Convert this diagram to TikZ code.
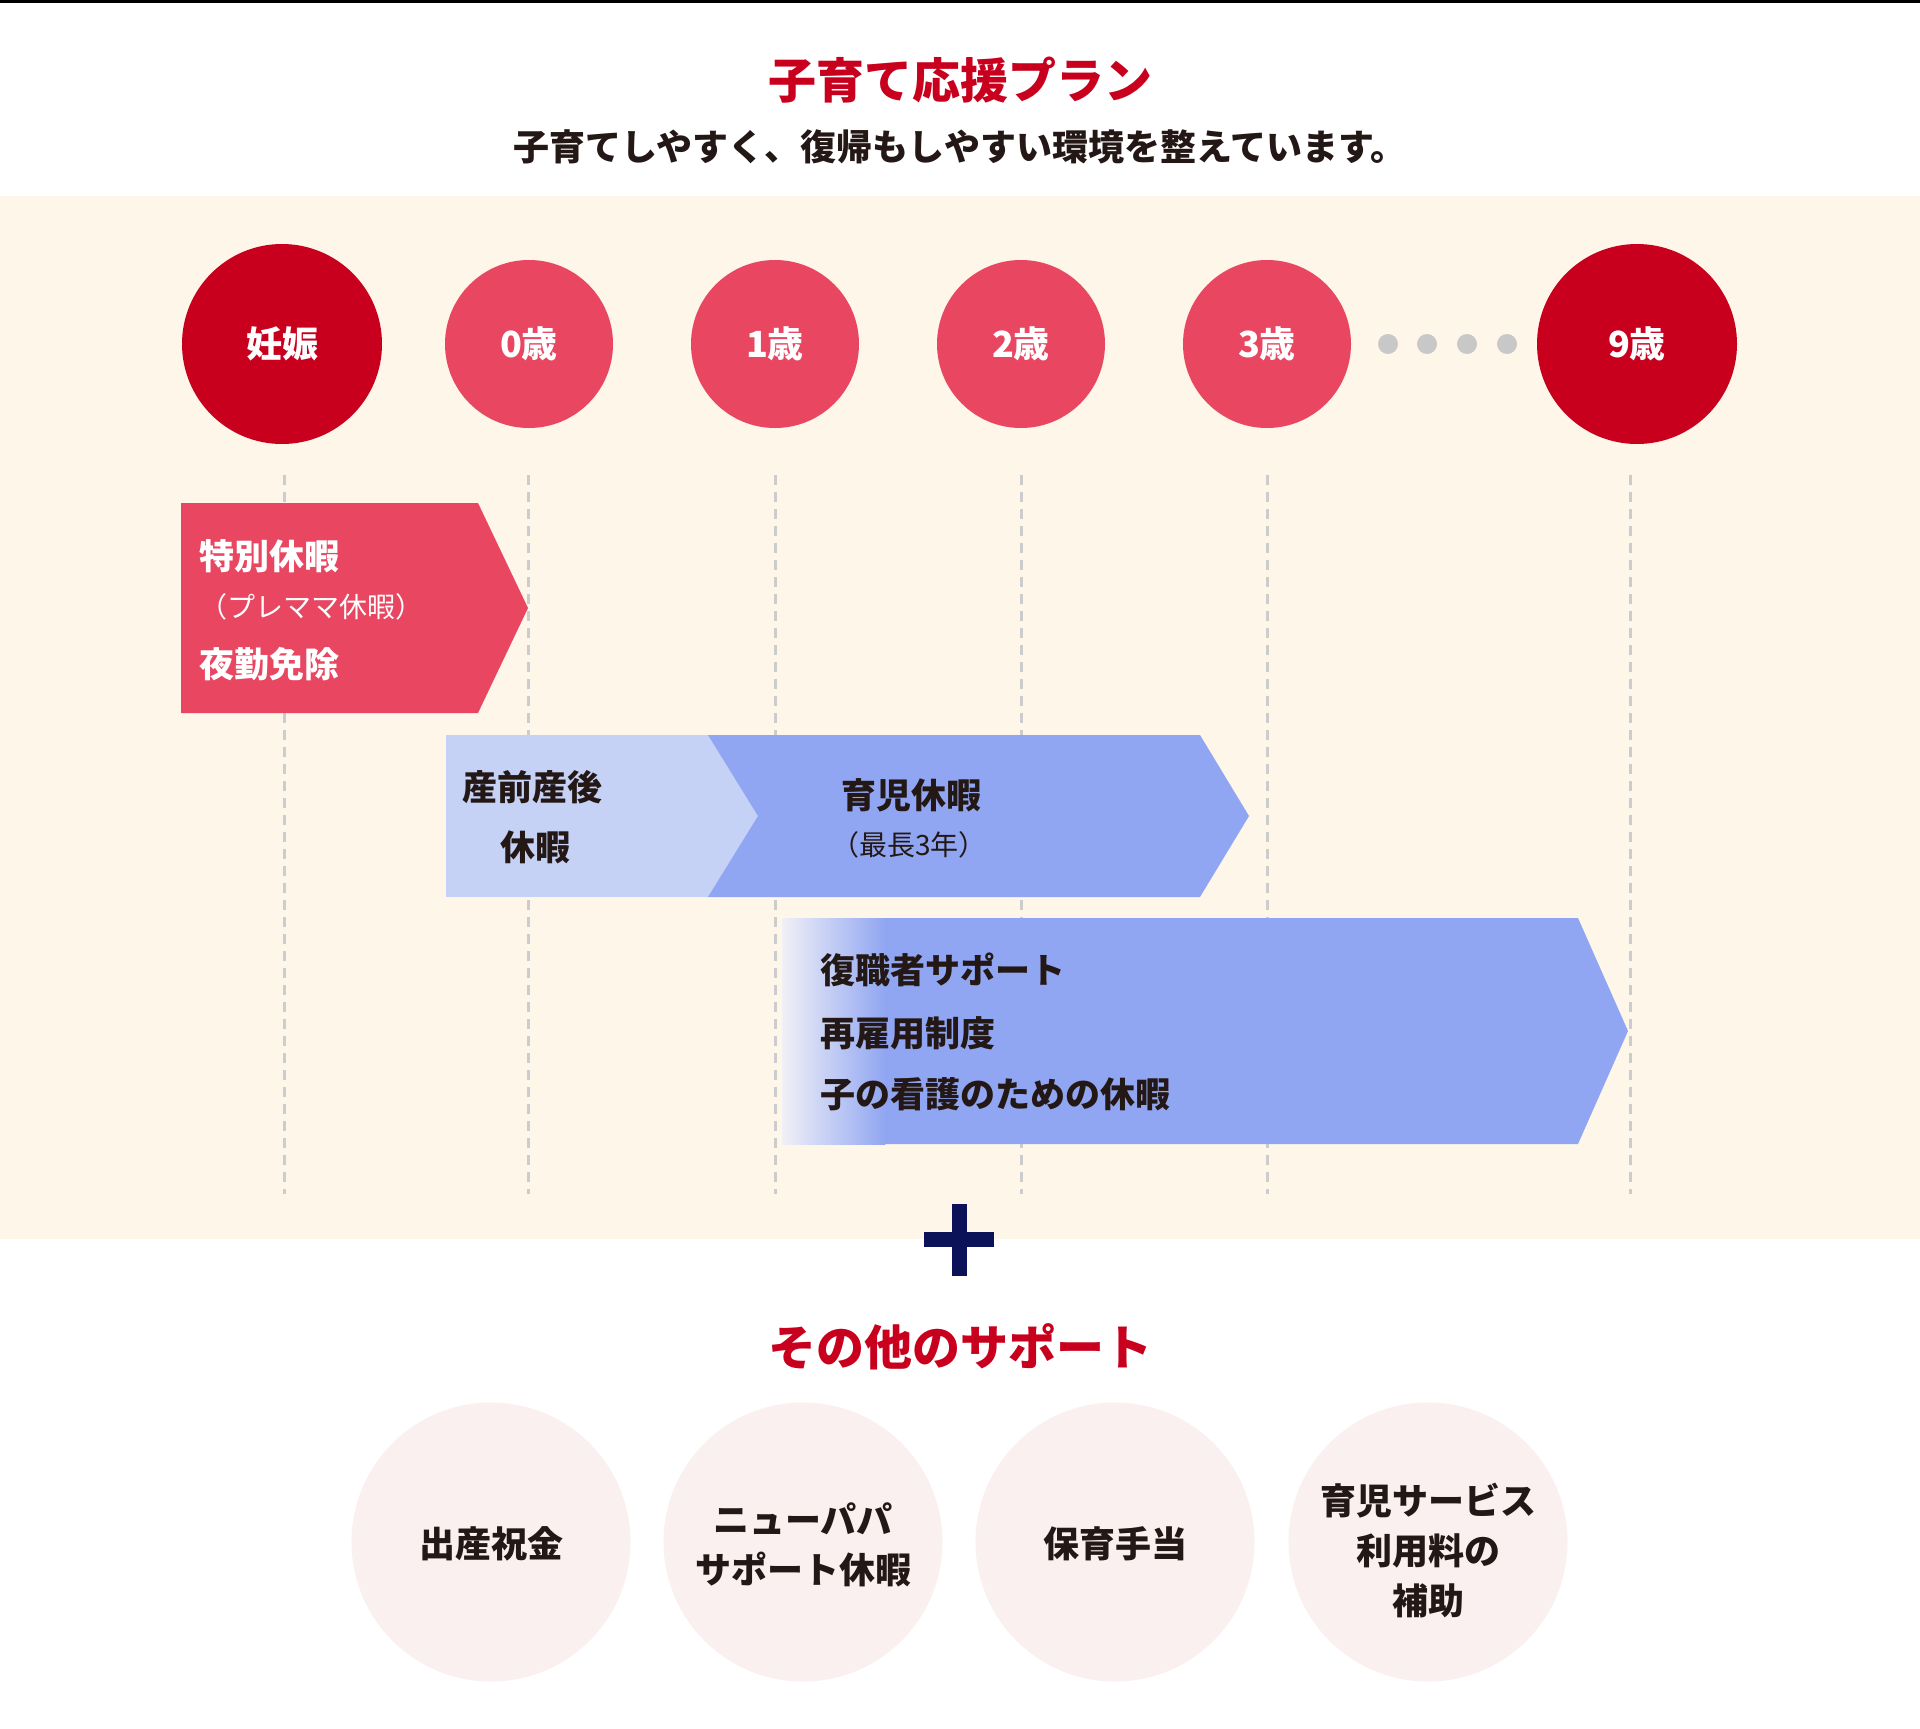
\documentclass[tikz,border=0pt]{standalone}
\usepackage{fontspec}
\setmainfont{Noto Sans CJK JP}
\definecolor{darkred}{HTML}{C8001E}
\definecolor{midpink}{HTML}{E84661}
\definecolor{lightblue}{HTML}{C6D1F6}
\definecolor{midblue}{HTML}{91A6F2}
\definecolor{beige}{HTML}{FDF6E9}
\definecolor{softpink}{HTML}{FAF0F0}
\definecolor{dotgray}{HTML}{C8C8C8}
\definecolor{dashgray}{HTML}{CCCCCC}
\definecolor{navy}{HTML}{0B1258}
\definecolor{ink}{HTML}{231815}
\definecolor{fadestart}{HTML}{F0F0F6}
\begin{document}
\begin{tikzpicture}[x=1pt,y=-1pt,
  bigtitle/.style={font=\fontsize{48}{58}\selectfont\bfseries, text=darkred, inner sep=0},
  subtitle/.style={font=\fontsize{36}{42}\selectfont\bfseries, text=ink, inner sep=0},
  bigcirc/.style={circle, fill=darkred, minimum size=200pt, inner sep=0, text=white, font=\fontsize{36}{44}\selectfont\bfseries},
  agecirc/.style={circle, fill=midpink, minimum size=168pt, inner sep=0, text=white, font=\fontsize{36}{44}\selectfont\bfseries},
  graydot/.style={circle, fill=dotgray, minimum size=20pt, inner sep=0},
  dashline/.style={draw=dashgray, line width=3pt, dash pattern=on 10pt off 7pt},
  whitelabel/.style={font=\fontsize{35}{42}\selectfont\bfseries, text=white, inner sep=0, anchor=west},
  whitesub/.style={font=\fontsize{28}{34}\selectfont, text=white, inner sep=0, anchor=west},
  inklabel/.style={font=\fontsize{35}{42}\selectfont\bfseries, text=ink, inner sep=0},
  inksub/.style={font=\fontsize{28}{34}\selectfont, text=ink, inner sep=0},
  supportcirc/.style={circle, fill=softpink, minimum size=279pt, inner sep=0},
  supporttext/.style={text=ink, align=center, inner sep=0, font=\fontsize{36}{50}\selectfont\bfseries}
]
\fill[white] (0,0) rectangle (1920,1729);
\useasboundingbox (0,0) rectangle (1920,1729);
\fill[black] (0,0) rectangle (1920,3);
\fill[beige] (0,196) rectangle (1920,1239);

\node[bigtitle] (title) at (960,80) {子育て応援プラン};
\node[subtitle] (sub) at (960,147) {子育てしやすく、復帰もしやすい環境を整えています。};

% dashed guide lines
\foreach \i/\x in {1/284,2/528,3/775,4/1021,5/1267,6/1630}{
  \coordinate (t\i) at (\x,475);
  \coordinate (b\i) at (\x,1194);
  \draw[dashline] (t\i) -- (b\i);
}

% stage circles
\node[bigcirc] (preg) at (282,344) {妊娠};
\node[agecirc] (a0) at (529,344) {0歳};
\node[agecirc] (a1) at (775,344) {1歳};
\node[agecirc] (a2) at (1021,344) {2歳};
\node[agecirc] (a3) at (1267,344) {3歳};
\node[graydot] (d1) at (1388,344) {};
\node[graydot] (d2) at (1427,344) {};
\node[graydot] (d3) at (1467,344) {};
\node[graydot] (d4) at (1507,344) {};
\node[bigcirc] (a9) at (1637,344) {9歳};

% pink arrow
\fill[midpink] (181,503) -- (478,503) -- (528,608) -- (478,713) -- (181,713) -- cycle;
\node[whitelabel] (tokubetsu) at (199,556) {特別休暇};
\node[whitesub] (premama) at (199,607) {（プレママ休暇）};
\node[whitelabel] (yakin) at (199,664) {夜勤免除};

% blue arrows row 1
\fill[lightblue] (446,735) rectangle (760,897);
\fill[midblue] (708,735) -- (1200,735) -- (1249,816) -- (1200,897) -- (708,897) -- (758,816) -- cycle;
\node[inklabel, anchor=west] (sanzen) at (462,787) {産前産後};
\node[inklabel, anchor=west] (kyuka1) at (500,847) {休暇};
\node[inklabel] (ikuji) at (911,795) {育児休暇};
\node[inksub] (saicho) at (909,845) {（最長3年）};

% blue arrow row 2
\fill[midblue] (782,918) -- (1578,918) -- (1628,1031) -- (1578,1144) -- (782,1144) -- cycle;
\shade[left color=fadestart, right color=midblue] (782,918) rectangle (885,1144);
\node[inklabel, anchor=west] (fukushoku) at (820,970) {復職者サポート};
\node[inklabel, anchor=west] (saikoyo) at (820,1033) {再雇用制度};
\node[inklabel, anchor=west] (kango) at (820,1094) {子の看護のための休暇};

% plus
\fill[navy] (952,1204) rectangle (967,1276);
\fill[navy] (924,1232) rectangle (994,1247);

\node[bigtitle] (other) at (960,1347) {その他のサポート};

\node[supportcirc] (s1) at (491,1542) {};
\node[supportcirc] (s2) at (803,1542) {};
\node[supportcirc] (s3) at (1115,1542) {};
\node[supportcirc] (s4) at (1428,1542) {};
\node[supporttext] (s1t) at (491,1544) {出産祝金};
\node[supporttext] (s2t) at (803,1545) {ニューパパ\\サポート休暇};
\node[supporttext] (s3t) at (1115,1544) {保育手当};
\node[supporttext] (s4t) at (1428,1551) {育児サービス\\利用料の\\補助};
\end{tikzpicture}
\end{document}
